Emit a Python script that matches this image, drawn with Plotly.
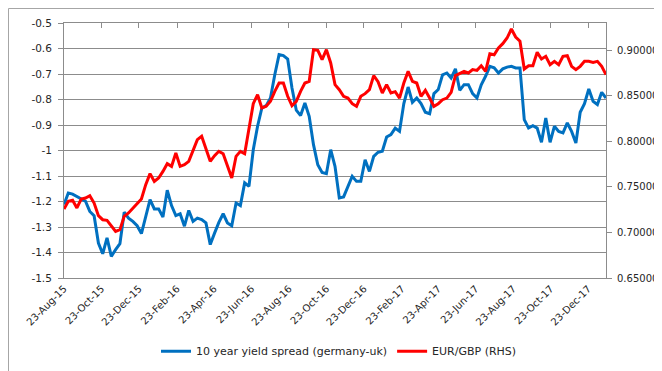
import pandas as pd
import plotly.graph_objects as go

# weekly observations starting 23-Aug-2015
start_date = "2015-08-23"
n_weeks = 127

spread = [
    -1.212, -1.167, -1.171, -1.180, -1.190, -1.199, -1.239, -1.256, -1.363, -1.405,
    -1.343, -1.415, -1.389, -1.365, -1.242, -1.265, -1.278, -1.295, -1.326, -1.265,
    -1.193, -1.229, -1.229, -1.261, -1.156, -1.216, -1.255, -1.248, -1.297, -1.235,
    -1.278, -1.265, -1.271, -1.284, -1.369, -1.324, -1.282, -1.248, -1.284, -1.295,
    -1.206, -1.216, -1.127, -1.141, -0.997, -0.905, -0.833, -0.824, -0.794, -0.703,
    -0.624, -0.628, -0.641, -0.755, -0.842, -0.863, -0.814, -0.866, -0.977, -1.056,
    -1.086, -1.091, -0.997, -1.062, -1.186, -1.182, -1.141, -1.101, -1.121, -1.121,
    -1.036, -1.082, -1.023, -1.007, -1.003, -0.947, -0.938, -0.912, -0.925, -0.816,
    -0.751, -0.811, -0.794, -0.816, -0.850, -0.856, -0.777, -0.761, -0.703, -0.696,
    -0.716, -0.680, -0.764, -0.742, -0.742, -0.777, -0.794, -0.742, -0.709, -0.670,
    -0.676, -0.696, -0.680, -0.673, -0.670, -0.676, -0.676, -0.879, -0.912, -0.903,
    -0.912, -0.968, -0.873, -0.968, -0.905, -0.925, -0.931, -0.892, -0.925, -0.971,
    -0.850, -0.816, -0.759, -0.807, -0.820, -0.772, -0.794,
]

eurgbp = [
    0.7258, 0.7342, 0.7353, 0.7269, 0.7367, 0.7378, 0.7404, 0.7323, 0.7184, 0.7140,
    0.7133, 0.7067, 0.7012, 0.7031, 0.7177, 0.7214, 0.7269, 0.7323, 0.7367, 0.7525,
    0.7646, 0.7561, 0.7598, 0.7671, 0.7755, 0.7726, 0.7872, 0.7726, 0.7744, 0.7781,
    0.7891, 0.8019, 0.8056, 0.7927, 0.7781, 0.7843, 0.7891, 0.7865, 0.7726, 0.7598,
    0.7836, 0.7891, 0.7865, 0.8165, 0.8414, 0.8513, 0.8367, 0.8385, 0.8440, 0.8550,
    0.8641, 0.8641, 0.8495, 0.8392, 0.8440, 0.8550, 0.8641, 0.8659, 0.9007, 0.9000,
    0.8897, 0.9007, 0.8861, 0.8623, 0.8568, 0.8495, 0.8476, 0.8414, 0.8385, 0.8495,
    0.8524, 0.8568, 0.8722, 0.8656, 0.8531, 0.8623, 0.8531, 0.8546, 0.8476, 0.8641,
    0.8769, 0.8659, 0.8641, 0.8495, 0.8561, 0.8476, 0.8385, 0.8414, 0.8458, 0.8476,
    0.8539, 0.8722, 0.8744, 0.8769, 0.8751, 0.8788, 0.8780, 0.8831, 0.8769, 0.8963,
    0.8952, 0.9025, 0.9073, 0.9135, 0.9234, 0.9146, 0.9099, 0.8795, 0.8831, 0.8831,
    0.8978, 0.8905, 0.8934, 0.8842, 0.8879, 0.8842, 0.8934, 0.8941, 0.8824, 0.8788,
    0.8824, 0.8879, 0.8879, 0.8868, 0.8879, 0.8824, 0.8733,
]

x_tick_dates = [
    "2015-08-23", "2015-10-23", "2015-12-23", "2016-02-23", "2016-04-23",
    "2016-06-23", "2016-08-23", "2016-10-23", "2016-12-23", "2017-02-23",
    "2017-04-23", "2017-06-23", "2017-08-23", "2017-10-23", "2017-12-23",
]
x_tick_labels = [
    "23-Aug-15", "23-Oct-15", "23-Dec-15", "23-Feb-16", "23-Apr-16",
    "23-Jun-16", "23-Aug-16", "23-Oct-16", "23-Dec-16", "23-Feb-17",
    "23-Apr-17", "23-Jun-17", "23-Aug-17", "23-Oct-17", "23-Dec-17",
]
left_ticks = [-0.5, -0.6, -0.7, -0.8, -0.9, -1.0, -1.1, -1.2, -1.3, -1.4, -1.5]
left_tick_labels = ["-0.5", "-0.6", "-0.7", "-0.8", "-0.9", "-1", "-1.1", "-1.2", "-1.3", "-1.4", "-1.5"]
right_ticks = [0.65, 0.70, 0.75, 0.80, 0.85, 0.90]

dates = pd.date_range(start_date, periods=n_weeks, freq="7D")

W, H = 662, 371
ML, MR, MT, MB = 56, 64, 15, 101
PW, PH = W - ML - MR, H - MT - MB

FONT = "DejaVu Sans"
GRID = "#8c8c8c"
TXT = "#262626"

fig = go.Figure()
fig.add_trace(go.Scatter(
    x=dates, y=spread, mode="lines", name="10 year yield spread (germany-uk)",
    line=dict(color="#0070C0", width=3), xaxis="x", yaxis="y",
))
fig.add_trace(go.Scatter(
    x=dates, y=eurgbp, mode="lines", name="EUR/GBP (RHS)",
    line=dict(color="#FF0000", width=3), xaxis="x2", yaxis="y2",
))

xrange = ["2015-08-23", "2018-01-21"]

fig.update_layout(
    template="none",
    width=W, height=H,
    margin=dict(l=ML, r=MR, t=MT, b=MB, pad=0),
    paper_bgcolor="white", plot_bgcolor="white",
    font=dict(family=FONT, size=10, color=TXT),
    showlegend=True,
    legend=dict(
        orientation="h", xref="container", yref="container",
        x=0.5, xanchor="center", y=0.075, yanchor="middle",
        font=dict(family=FONT, size=11, color=TXT),
        itemwidth=30, tracegroupgap=0, bgcolor="rgba(0,0,0,0)",
    ),
    xaxis=dict(
        type="date", range=xrange, tickvals=x_tick_dates, ticktext=x_tick_labels,
        tickangle=-45, showgrid=False, showline=True, linecolor=GRID, linewidth=1,
        ticks="", zeroline=False, automargin=False,
        tickfont=dict(family=FONT, size=10, color=TXT),
    ),
    xaxis2=dict(
        type="date", range=xrange, tickvals=x_tick_dates, overlaying="x", side="top",
        anchor="y", showticklabels=False, ticks="inside", ticklen=5, tickcolor=GRID,
        showgrid=False, showline=True, linecolor=GRID, linewidth=1, zeroline=False,
        automargin=False,
    ),
    yaxis=dict(
        range=[-1.5, -0.5], tickvals=left_ticks, ticktext=left_tick_labels,
        showgrid=True, gridcolor=GRID, gridwidth=1, showline=True, linecolor=GRID,
        ticks="outside", ticklen=5, tickcolor=GRID, zeroline=False,
        ticklabelstandoff=4, automargin=False,
        tickfont=dict(family=FONT, size=10.5, color=TXT),
    ),
    yaxis2=dict(
        range=[0.65, 0.93], tickvals=right_ticks, tickformat=".5f",
        overlaying="y", side="right", anchor="x", showgrid=False,
        showline=True, linecolor=GRID, ticks="outside", ticklen=5, tickcolor=GRID,
        ticklabelstandoff=3, automargin=False,
        zeroline=False, tickfont=dict(family=FONT, size=10, color=TXT),
    ),
)

# outer chart border
fig.add_shape(
    type="rect", xref="paper", yref="paper",
    x0=-(ML - 0.5) / PW, x1=1 + (MR - 1.5) / PW,
    y0=-(MB - 1.5) / PH, y1=1 + (MT - 0.5) / PH,
    line=dict(color="#a6a6a6", width=1), fillcolor="rgba(0,0,0,0)", layer="above",
)

fig.write_html("out.html")
